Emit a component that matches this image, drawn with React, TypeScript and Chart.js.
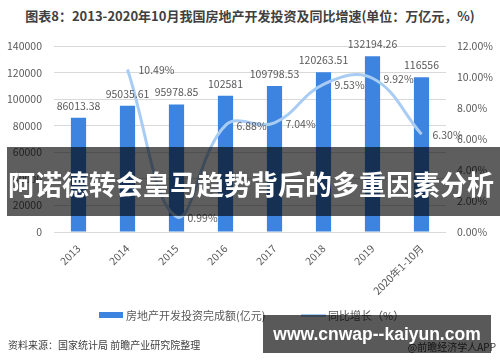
import React, { useEffect, useRef } from "react";
import { Chart, registerables } from "chart.js";

Chart.register(...registerables);

const categories: string[] = ["2013", "2014", "2015", "2016", "2017", "2018", "2019", "2020年1-10月"];
const investment: number[] = [86013.38, 95035.61, 95978.85, 102581, 109798.53, 120263.51, 132194.26, 116556];
const investmentLabels: string[] = ["86013.38", "95035.61", "95978.85", "102581", "109798.53", "120263.51", "132194.26", "116556"];
const growth: (number | null)[] = [null, 10.49, 0.99, 6.88, 7.04, 9.53, 9.92, 6.3];
const leftTicks = { min: 0, max: 140000, step: 20000 };
const rightTicks = { min: 0, max: 12, step: 2 };

const titleText = "图表8：2013-2020年10月我国房地产开发投资及同比增速(单位：万亿元，%)";
const barLegend = "房地产开发投资完成额(亿元)";
const lineLegend = "同比增长（%）";
const sourceText = "资料来源：国家统计局 前瞻产业研究院整理";
const appText = "@前瞻经济学人APP";
const bannerText = "阿诺德转会皇马趋势背后的多重因素分析";
const boxText = "www.cnwap--kaiyun.com";

const BAR_COLOR = "#3d84e0";
const LINE_COLOR = "#a9ccf4";
const TEXT_COLOR = "#595959";
const FONT = "'Noto Sans CJK SC', 'Liberation Sans', sans-serif";

const labelPlugin = {
  id: "valueLabels",
  afterDatasetsDraw(chart: any) {
    const ctx = chart.ctx;
    ctx.save();
    ctx.font = `10.5px ${FONT}`;
    ctx.fillStyle = TEXT_COLOR;
    const barMeta = chart.getDatasetMeta(1);
    barMeta.data.forEach((el: any, i: number) => {
      ctx.textAlign = "center";
      ctx.textBaseline = "middle";
      ctx.fillText(investmentLabels[i], el.x, el.y - 12);
    });
    const lineMeta = chart.getDatasetMeta(0);
    lineMeta.data.forEach((el: any, i: number) => {
      const v = growth[i];
      if (v === null) return;
      ctx.textAlign = "left";
      ctx.textBaseline = "middle";
      ctx.fillText(v.toFixed(2) + "%", el.x + 11, el.y + 1);
    });
    ctx.restore();
  },
};

export default function App() {
  const ref = useRef<HTMLCanvasElement | null>(null);
  useEffect(() => {
    if (!ref.current) return;
    const chart = new Chart(ref.current, {
      type: "bar",
      data: {
        labels: categories,
        datasets: [
          {
            type: "line",
            label: lineLegend,
            data: growth,
            yAxisID: "y1",
            borderColor: LINE_COLOR,
            backgroundColor: LINE_COLOR,
            borderWidth: 3,
            pointRadius: 0,
            tension: 0.4,
            order: 0,
          } as any,
          {
            type: "bar",
            label: barLegend,
            data: investment,
            yAxisID: "y",
            backgroundColor: BAR_COLOR,
            barPercentage: 0.31,
            categoryPercentage: 1,
            order: 1,
          },
        ],
      },
      options: {
        responsive: false,
        animation: false,
        layout: { padding: { top: 46, left: 0, right: 0, bottom: 0 } },
        plugins: {
          legend: { display: false },
          title: { display: false },
          tooltip: { enabled: false },
        },
        scales: {
          x: {
            grid: { display: false },
            border: { display: false },
            ticks: {
              maxRotation: 45,
              minRotation: 45,
              color: TEXT_COLOR,
              font: { size: 10.5, family: FONT },
              padding: 2,
              autoSkip: false,
            },
            afterFit: (s: any) => {
              s.height = 130;
            },
          },
          y: {
            position: "left",
            min: leftTicks.min,
            max: leftTicks.max,
            grid: { color: "#d9d9d9", drawTicks: false },
            border: { display: false },
            ticks: {
              stepSize: leftTicks.step,
              color: TEXT_COLOR,
              font: { size: 10.5, family: FONT },
              padding: 12,
              callback: (v: any) => String(v),
            },
            afterFit: (s: any) => {
              s.width = 54;
            },
          },
          y1: {
            position: "right",
            min: rightTicks.min,
            max: rightTicks.max,
            grid: { display: false, drawTicks: false },
            border: { display: false },
            ticks: {
              stepSize: rightTicks.step,
              color: TEXT_COLOR,
              font: { size: 10.5, family: FONT },
              padding: 11,
              callback: (v: any) => Number(v).toFixed(2) + "%",
            },
            afterFit: (s: any) => {
              s.width = 54;
            },
          },
        },
      },
      plugins: [labelPlugin],
    });
    return () => chart.destroy();
  }, []);

  return (
    <div style={{ position: "fixed", left: 0, top: 0, width: 500, height: 362, background: "#fff", overflow: "hidden", fontFamily: FONT }}>
      <div style={{ position: "absolute", left: 0, top: 7, width: 500, textAlign: "center", fontWeight: "bold", fontSize: 13, color: "#404040", lineHeight: "18px", whiteSpace: "nowrap" }}>
        {titleText}
      </div>
      <canvas ref={ref} width={500} height={362} style={{ position: "absolute", left: 0, top: 0, width: 500, height: 362 }} />
      <div style={{ position: "absolute", left: 99, top: 312, width: 24, height: 6, background: BAR_COLOR }} />
      <div style={{ position: "absolute", left: 126, top: 307, fontSize: 11, color: TEXT_COLOR, lineHeight: "16px", whiteSpace: "nowrap" }}>{barLegend}</div>
      <div style={{ position: "absolute", left: 301, top: 314, width: 25, height: 3, background: LINE_COLOR }} />
      <div style={{ position: "absolute", left: 328, top: 307, fontSize: 11, color: TEXT_COLOR, lineHeight: "16px", whiteSpace: "nowrap" }}>{lineLegend}</div>
      <div style={{ position: "absolute", left: 8, top: 337, fontSize: 10, color: "#404040", lineHeight: "16px", whiteSpace: "nowrap" }}>{sourceText}</div>
      <div style={{ position: "absolute", right: 4, top: 339, fontSize: 10, color: "#404040", lineHeight: "16px", whiteSpace: "nowrap" }}>{appText}</div>
      <div style={{ position: "absolute", left: 7, top: 147, width: 493, height: 69, background: "rgba(0,0,0,0.63)" }}>
        <div style={{ position: "absolute", left: 1, top: 20, color: "#fff", fontWeight: "bold", fontSize: 27, lineHeight: "34px", whiteSpace: "nowrap" }}>{bannerText}</div>
      </div>
      <div style={{ position: "absolute", left: 263, top: 315, width: 228, height: 38, background: "rgba(0,0,0,0.65)", color: "#fff", fontWeight: "bold", fontSize: 17.5, fontFamily: "'Liberation Sans', sans-serif", lineHeight: "38px", textAlign: "center", whiteSpace: "nowrap" }}>
        {boxText}
      </div>
    </div>
  );
}
